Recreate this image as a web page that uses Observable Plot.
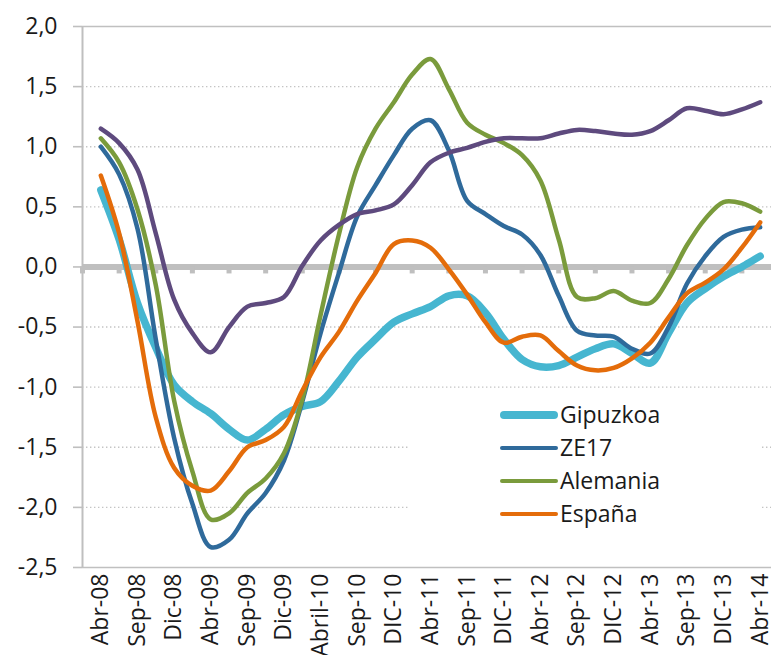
<!DOCTYPE html>
<html><head><meta charset="utf-8">
<script src="https://cdn.jsdelivr.net/npm/d3@7"></script>
<script src="https://cdn.jsdelivr.net/npm/@observablehq/plot@0.6"></script>
<style>
body{margin:0;background:#fff;font-family:"Open Sans",sans-serif;}
#wrap{position:relative;width:771px;height:655px;overflow:hidden;}
#legend{position:absolute;left:408px;top:392px;width:354px;height:163px;background:#fff;}
.row{position:absolute;left:92px;height:0;}
.sw{position:absolute;left:0;width:58px;border-radius:4px;}
.lb{position:absolute;left:60px;top:0;transform:translateY(-52%);font-size:23px;color:#1a1a1a;white-space:nowrap;line-height:1;}
</style></head>
<body><div id="wrap"></div>
<script>
const labels = ["Abr-08","Sep-08","Dic-08","Abr-09","Sep-09","Dic-09","Abril-10","Sep-10","DIC-10","Abr-11","Sep-11","DIC-11","Abr-12","Sep-12","DIC-12","Abr-13","Sep-13","DIC-13","Abr-14"];
// values every half label step (label, midpoint, label, ...)
const gipuzkoa = [0.64,0.23,-0.3,-0.67,-0.98,-1.12,-1.22,-1.35,-1.44,-1.35,-1.23,-1.16,-1.12,-0.95,-0.75,-0.6,-0.46,-0.39,-0.33,-0.24,-0.24,-0.38,-0.6,-0.77,-0.83,-0.82,-0.75,-0.68,-0.64,-0.72,-0.8,-0.55,-0.3,-0.18,-0.08,0.0,0.09];
const ze17 = [1.0,0.77,0.32,-0.6,-1.42,-1.97,-2.33,-2.27,-2.05,-1.88,-1.61,-1.12,-0.55,-0.05,0.42,0.68,0.93,1.15,1.22,0.97,0.55,0.44,0.34,0.27,0.1,-0.24,-0.53,-0.57,-0.58,-0.68,-0.72,-0.5,-0.14,0.09,0.25,0.31,0.33];
const alemania = [1.07,0.87,0.48,-0.15,-1.11,-1.7,-2.1,-2.05,-1.88,-1.76,-1.55,-1.1,-0.4,0.27,0.83,1.15,1.37,1.6,1.73,1.48,1.2,1.1,1.03,0.93,0.72,0.23,-0.25,-0.26,-0.2,-0.28,-0.3,-0.1,0.18,0.4,0.54,0.53,0.46];
const espana = [0.76,0.28,-0.45,-1.25,-1.67,-1.82,-1.86,-1.7,-1.5,-1.44,-1.33,-1.03,-0.75,-0.54,-0.28,-0.05,0.19,0.22,0.16,-0.02,-0.23,-0.46,-0.63,-0.58,-0.57,-0.7,-0.82,-0.86,-0.84,-0.76,-0.63,-0.42,-0.22,-0.13,-0.02,0.16,0.37];
const serie5 = [1.15,1.03,0.81,0.28,-0.27,-0.55,-0.71,-0.5,-0.33,-0.3,-0.25,0.01,0.22,0.35,0.44,0.47,0.52,0.68,0.87,0.95,0.99,1.04,1.07,1.07,1.07,1.11,1.14,1.13,1.11,1.1,1.13,1.22,1.32,1.3,1.27,1.31,1.37];
const legendNames = ["Gipuzkoa","ZE17","Alemania","España"];
const yTicks = [-2.5,-2.0,-1.5,-1.0,-0.5,0.0,0.5,1.0,1.5,2.0];

const styles = [
  {vals: gipuzkoa, color:"#46B6D0", w:7.5},
  {vals: ze17, color:"#2F6A9B", w:4.5},
  {vals: alemania, color:"#7A9B3C", w:4.5},
  {vals: serie5, color:"#5E4A7E", w:4.5},
  {vals: espana, color:"#E46C0A", w:4.5}
];
const rows = vals => vals.map((v,k)=>({t:k/2, v}));
const yMin = d3.min(yTicks), yMax = d3.max(yTicks);
const x0 = -0.5, x1 = labels.length - 0.5;
const fmt = d => d.toFixed(1).replace(".", ",");

const plot = Plot.plot({
  width: 771, height: 655,
  marginLeft: 82, marginTop: 26, marginBottom: 88, marginRight: 0,
  style: {fontFamily: "Open Sans", fontSize: "23px", background: "#fff", color: "#1a1a1a"},
  x: {domain: [x0, x1], range: [82, 778]},
  y: {domain: [yMin, yMax]},
  marks: [
    Plot.ruleY(yTicks.filter(d => d !== 0 && d !== yMin && d !== yMax), {stroke:"#c4c4c4", strokeWidth:1.4, strokeDasharray:"1.4,2.6"}),
    Plot.ruleY([yMin, yMax], {stroke:"#c0c0c0", strokeWidth:1.6}),
    Plot.ruleX([x0], {y1: yMin, y2: yMax, stroke:"#bfbfbf", strokeWidth:2}),
    Plot.ruleY(yTicks, {x1: x0, x2: x0, insetLeft: -9, stroke:"#bfbfbf", strokeWidth:1.6}),
    Plot.ruleY([0], {stroke:"#bfbfbf", strokeWidth:6}),
    Plot.ruleX(labels.map((_, i) => i - 0.5), {y1: 0, y2: 0, insetBottom: -7, stroke:"#bfbfbf", strokeWidth:5}),
    ...styles.map(s => Plot.line(rows(s.vals), {x:"t", y:"v", stroke: s.color, strokeWidth: s.w, curve:"catmull-rom", strokeLinecap:"round", strokeLinejoin:"round"})),
    Plot.axisY(yTicks, {tickSize: 0, tickPadding: 25, tickFormat: fmt, fontSize: 23, label: null}),
    Plot.axisX(d3.range(labels.length), {tickSize: 0, tickPadding: 6, tickRotate: -90, tickFormat: i => labels[i], fontSize: 23, label: null})
  ]
});
const wrap = document.getElementById("wrap");
wrap.appendChild(plot);

const leg = document.createElement("div");
leg.id = "legend";
legendNames.forEach((n, i) => {
  const r = document.createElement("div");
  r.className = "row";
  r.style.top = (23 + i * 33) + "px";
  const sw = document.createElement("div");
  sw.className = "sw";
  sw.style.background = styles[i === 3 ? 4 : i].color;
  const w = styles[i === 3 ? 4 : i].w;
  sw.style.height = w + "px";
  sw.style.top = (-w / 2) + "px";
  const lb = document.createElement("div");
  lb.className = "lb";
  lb.textContent = n;
  r.appendChild(sw); r.appendChild(lb);
  leg.appendChild(r);
});
wrap.appendChild(leg);
</script>
</body></html>
